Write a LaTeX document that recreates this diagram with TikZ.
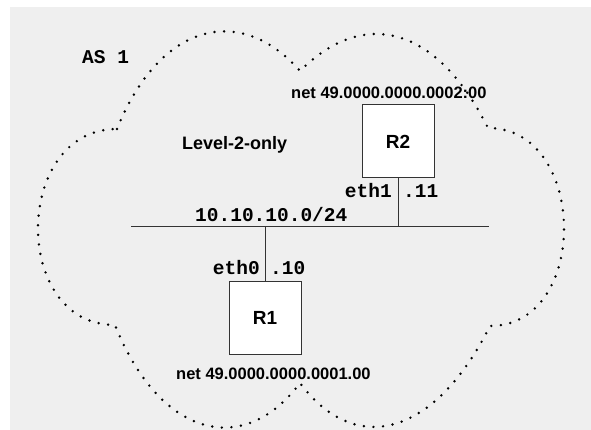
\documentclass[tikz,border=0pt]{standalone}
\usepackage{fontspec}
\newfontfamily\labelsans{Liberation Sans}
\newfontfamily\labelmono{Liberation Mono}
\definecolor{paper}{HTML}{EFEFEF}
\definecolor{ink}{HTML}{333333}
\begin{document}
\begin{tikzpicture}[x=1pt,y=-1pt,
  router/.style={draw=ink, line width=1pt, fill=white, minimum width=72pt,
    minimum height=73pt, inner sep=0pt,
    font=\labelsans\bfseries\fontsize{19}{19}\selectfont},
  netlabel/.style={inner sep=0pt, anchor=base west,
    font=\labelsans\bfseries\fontsize{16.5}{16.5}\selectfont},
  arealabel/.style={inner sep=0pt, anchor=base west,
    font=\labelsans\bfseries\fontsize{18}{18}\selectfont},
  monolabel/.style={inner sep=0pt,
    font=\labelmono\bfseries\fontsize{19.5}{19.5}\selectfont},
  link/.style={draw=ink, line width=1pt},
  cloudline/.style={line width=2.7pt, line cap=round, dash pattern=on 0pt off 9.6pt}]

\useasboundingbox (0,0) rectangle (591,430);
\fill[paper] (10,7) rectangle (591,430);

% autonomous system boundary
\draw[cloudline] (117,129) .. controls (160,22) and (241,3.5) .. (300,71)
  .. controls (363,8) and (436,24.5) .. (488,128)
  .. controls (588,128) and (590,326) .. (490,326)
  .. controls (436,434) and (357,459) .. (300,383)
  .. controls (243,459) and (159.4,436.6) .. (115,325)
  .. controls (11,325) and (13,129) .. (117,129);

\node[monolabel, anchor=base west] (as) at (82,64) {AS 1};
\node[arealabel] (area) at (182,150) {Level-2-only};

% shared LAN segment
\coordinate (lanL) at (131,227);
\coordinate (lanR) at (489,227);
\draw[link] (lanL) -- (lanR);
\node[monolabel, anchor=base west] (subnet) at (195,222) {10.10.10.0/24};

% routers
\node[router] (R2) at (398,141.5) {R2};
\node[router] (R1) at (265,317.5) {R1};

\draw[link] (R2.south) -- (R2.south |- lanL);
\draw[link] (R1.north) -- (R1.north |- lanL);

\node[netlabel] (net2) at (291,99) {net 49.0000.0000.0002:00};
\node[netlabel] (net1) at (176,379) {net 49.0000.0000.0001.00};

\node[monolabel, anchor=base east] (if2) at (392,198) {eth1};
\node[monolabel, anchor=base west] (ip2) at (403,198) {.11};
\node[monolabel, anchor=base east] (if1) at (260,274) {eth0};
\node[monolabel, anchor=base west] (ip1) at (270,274) {.10};

\end{tikzpicture}
\end{document}
